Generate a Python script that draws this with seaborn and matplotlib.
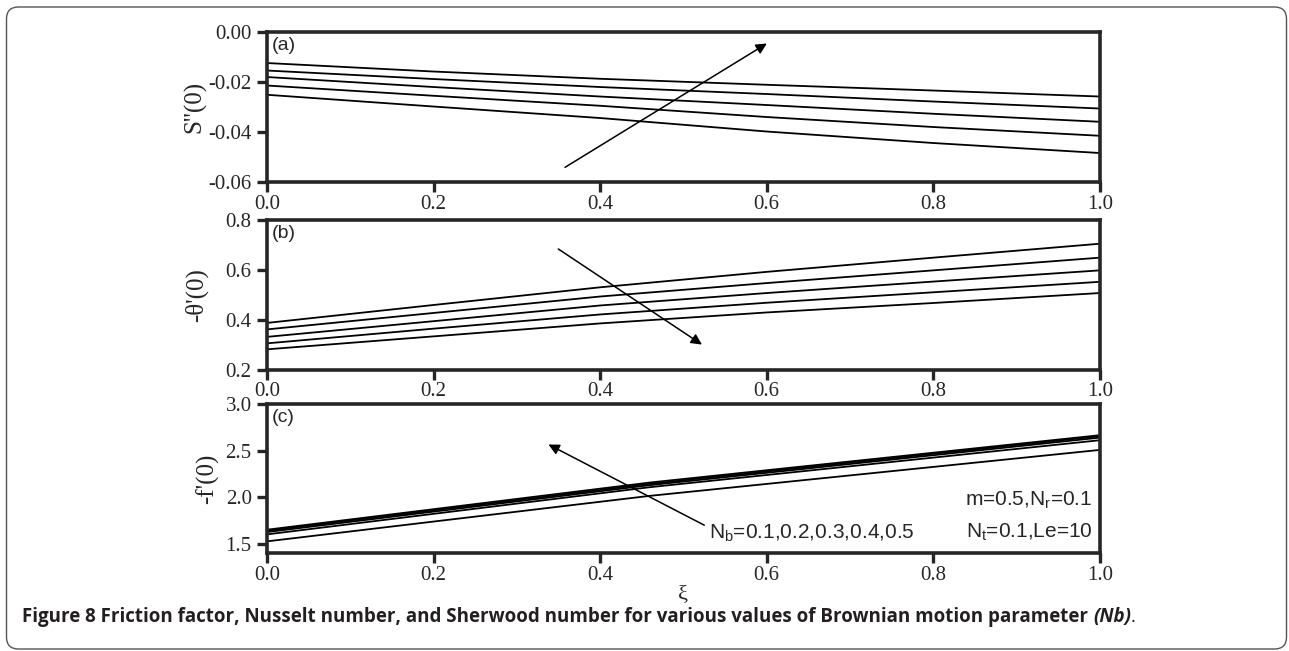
import numpy as np
import pandas as pd
import matplotlib
matplotlib.use("Agg")
import matplotlib.pyplot as plt
import seaborn as sns
from matplotlib.patches import FancyBboxPatch

# values
nb_values = ["0.1", "0.2", "0.3", "0.4", "0.5"]

# (a) S''(0), Nb = 0.1 (bottom) ... 0.5 (top)
xi_a = [0.0, 0.2, 0.4, 0.6, 0.8, 1.0]
s_nb01 = [-0.0251, -0.0298, -0.0344, -0.0398, -0.0444, -0.0484]
s_nb02 = [-0.0214, -0.0255, -0.0295, -0.0340, -0.0380, -0.0415]
s_nb03 = [-0.0180, -0.0220, -0.0258, -0.0292, -0.0327, -0.0359]
s_nb04 = [-0.0154, -0.0188, -0.0220, -0.0248, -0.0278, -0.0306]
s_nb05 = [-0.0124, -0.0158, -0.0187, -0.0211, -0.0234, -0.0258]

# (b) -theta'(0), Nb = 0.1 (top) ... 0.5 (bottom)
xi_b = [0.0, 0.2, 0.4, 0.6, 0.8, 1.0]
t_nb01 = [0.387, 0.459, 0.530, 0.592, 0.649, 0.705]
t_nb02 = [0.361, 0.427, 0.493, 0.547, 0.598, 0.649]
t_nb03 = [0.331, 0.394, 0.457, 0.507, 0.553, 0.598]
t_nb04 = [0.305, 0.364, 0.421, 0.468, 0.510, 0.552]
t_nb05 = [0.281, 0.333, 0.385, 0.429, 0.467, 0.507]

# (c) -f''(0), Nb = 0.1 (bottom) ... 0.5 (top)
xi_c = [0.0, 0.46, 1.0]
f_nb01 = [1.528, 2.017, 2.510]
f_nb02 = [1.603, 2.110, 2.614]
f_nb03 = [1.628, 2.132, 2.642]
f_nb04 = [1.642, 2.146, 2.657]
f_nb05 = [1.653, 2.160, 2.668]


def long_form(xi, series):
    rows = []
    for nb, ys in zip(nb_values, series):
        for x, y in zip(xi, ys):
            rows.append({"xi": x, "val": y, "Nb": nb})
    return pd.DataFrame(rows)


df_a = long_form(xi_a, [s_nb01, s_nb02, s_nb03, s_nb04, s_nb05])
df_b = long_form(xi_b, [t_nb01, t_nb02, t_nb03, t_nb04, t_nb05])
df_c = long_form(xi_c, [f_nb01, f_nb02, f_nb03, f_nb04, f_nb05])

sns.set_style("ticks")
plt.rcParams["font.family"] = ["Liberation Serif", "DejaVu Serif"]
plt.rcParams["axes.unicode_minus"] = False
plt.rcParams["mathtext.fontset"] = "custom"
plt.rcParams["mathtext.rm"] = "Liberation Sans"
plt.rcParams["mathtext.it"] = "Liberation Sans:italic"

fig = plt.figure(figsize=(12.89, 6.51), dpi=100)
left, width = 0.2071, 0.6462
ax_a = fig.add_axes([left, 0.7204, width, 0.2304])
ax_b = fig.add_axes([left, 0.4324, width, 0.2296])
ax_c = fig.add_axes([left, 0.1501, width, 0.2289])

black = ["black"] * 5
panels = [
    (ax_a, df_a, (-0.06, 0.0), [-0.06, -0.04, -0.02, 0.00], "%.2f", "S''(0)", -0.073, "(a)"),
    (ax_b, df_b, (0.2, 0.8), [0.2, 0.4, 0.6, 0.8], "%.1f", "-θ'(0)", -0.071, "(b)"),
    (ax_c, df_c, (1.4, 3.0), [1.5, 2.0, 2.5, 3.0], "%.1f", "-f'(0)", -0.057, "(c)"),
]

for ax, df, ylim, yt, fmt, ylab, labx, tag in panels:
    sns.lineplot(data=df, x="xi", y="val", hue="Nb", palette=black,
                 legend=False, lw=1.3, ax=ax)
    ax.set_xlim(0, 1.0)
    ax.set_ylim(*ylim)
    ax.set_xticks([0.0, 0.2, 0.4, 0.6, 0.8, 1.0])
    ax.set_xticklabels(["0.0", "0.2", "0.4", "0.6", "0.8", "1.0"])
    ax.set_yticks(yt)
    ax.set_yticklabels([fmt % v for v in yt])
    for sp in ax.spines.values():
        sp.set_linewidth(2.6)
        sp.set_visible(True)
    ax.tick_params(direction="out", length=7.5, width=2.4, labelsize=15, pad=1.5)
    ax.tick_params(axis="y", pad=3.5)
    ax.set_xlabel("")
    ax.set_ylabel(ylab, fontsize=18)
    ax.yaxis.set_label_coords(labx, 0.5)
    ax.text(0.006, 0.91, tag, transform=ax.transAxes, family="Liberation Sans",
            fontsize=14, va="center", ha="left")

ax_c.set_xlabel("ξ", fontsize=16, labelpad=0)

arrow = dict(arrowstyle="-|>", color="black", lw=1.1, mutation_scale=16)
ax_a.annotate("", xy=(0.603, -0.004), xytext=(0.355, -0.0547), arrowprops=arrow)
ax_b.annotate("", xy=(0.525, 0.294), xytext=(0.347, 0.690), arrowprops=arrow)
ax_c.annotate("", xy=(0.335, 2.582), xytext=(0.528, 1.688), arrowprops=arrow)

sans = dict(family="Liberation Sans", fontsize=15)
ax_c.text(0.531, 1.61, r"N$_\mathrm{b}$=0.1,0.2,0.3,0.4,0.5", ha="left", va="center", **sans)
ax_c.text(0.991, 1.97, r"m=0.5,N$_\mathrm{r}$=0.1", ha="right", va="center", **sans)
ax_c.text(0.991, 1.63, r"N$_\mathrm{t}$=0.1,Le=10", ha="right", va="center", **sans)

# caption
cap_color = "#231f20"
cap_font = ["Open Sans", "DejaVu Sans"]
cap_size = 13.5
cap_y = 1 - 617 / 651
cap = fig.text(22 / 1289, cap_y,
               "Figure 8 Friction factor, Nusselt number, and Sherwood number for various values of Brownian motion parameter ",
               family=cap_font, fontweight="bold", fontsize=cap_size,
               color=cap_color, va="center", ha="left")
renderer = fig.canvas.get_renderer()
bb = cap.get_window_extent(renderer)
nb_txt = fig.text(bb.x1 / 1289, cap_y, "(Nb)", family=cap_font,
                  fontweight="bold", fontstyle="italic", fontsize=cap_size,
                  color=cap_color, va="center", ha="left")
bb2 = nb_txt.get_window_extent(renderer)
fig.text(bb2.x1 / 1289, cap_y, ".", family=cap_font,
         fontsize=cap_size, color=cap_color, va="center", ha="left")

# rounded frame around the figure
frame = FancyBboxPatch((6.5, 2), 1280, 642, boxstyle="round,pad=0,rounding_size=12",
                       transform=None, fill=False, edgecolor="#555555", lw=1.0)
fig.patches.append(frame)

fig.savefig("out.png", dpi=100)
